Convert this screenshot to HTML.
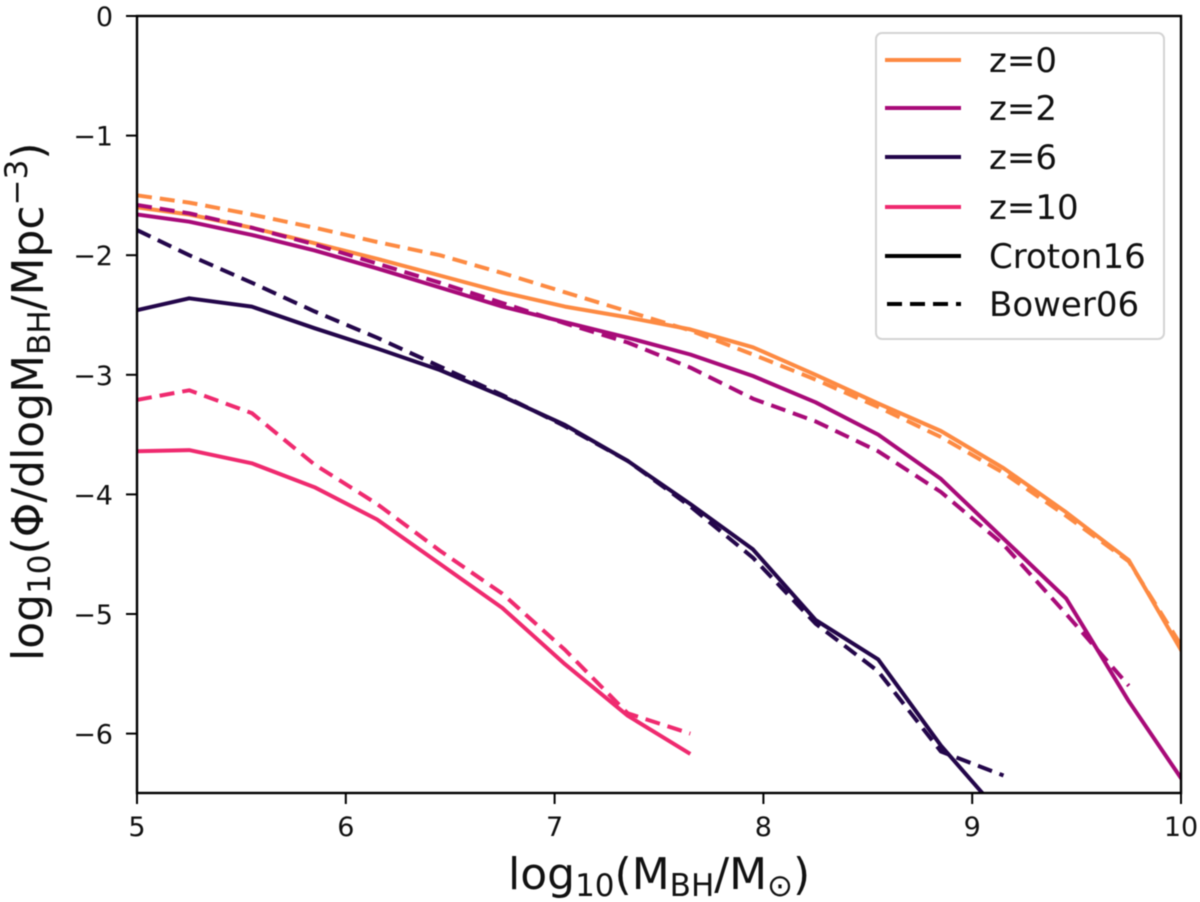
<!DOCTYPE html>
<html lang="en">
<head>
<meta charset="utf-8">
<title>Black hole mass function</title>
<style>
html,body{margin:0;padding:0;background:#fff;width:1200px;height:902px;overflow:hidden}
svg{display:block;filter:blur(0.5px)}
text{font-family:"DejaVu Sans","Liberation Sans",sans-serif;fill:#111}
</style>
</head>
<body>
<svg id="chart" width="1200" height="902" viewBox="0 0 1200 902" xmlns="http://www.w3.org/2000/svg">
  <defs><clipPath id="plot-clip"><rect x="137" y="16" width="1044" height="777"/></clipPath></defs>
  <g id="series" clip-path="url(#plot-clip)"></g>
  <rect x="137" y="16" width="1044" height="777" fill="none" stroke="#000" stroke-width="2.4"/>
  <g id="ticks"></g>
  <text x="508" y="889" font-size="44">log<tspan font-size="31" dy="7">10</tspan><tspan dy="-7">(M</tspan><tspan font-size="31" dy="7">BH</tspan><tspan dy="-7">/M</tspan><tspan font-size="31" dy="7">⊙</tspan><tspan dy="-7">)</tspan></text>
  <text transform="translate(43,661) rotate(-90)" font-size="44">log<tspan font-size="31" dy="7">10</tspan><tspan dy="-7">(Φ/dlogM</tspan><tspan font-size="31" dy="7">BH</tspan><tspan dy="-7">/Mpc</tspan><tspan font-size="31" dy="-16">−3</tspan><tspan dy="16">)</tspan></text>
  <g>
    <rect x="876" y="33" width="288" height="306" rx="6" fill="#fff" fill-opacity="0.85" stroke="#d4d4d4" stroke-width="2"/>
    <line x1="885" x2="961" y1="60" y2="60" stroke="#fd8a42" stroke-width="4"/>
    <text x="989" y="72" font-size="34">z=0</text>
    <line x1="885" x2="961" y1="108" y2="108" stroke="#a80a78" stroke-width="4"/>
    <text x="989" y="120" font-size="34">z=2</text>
    <line x1="885" x2="961" y1="157" y2="157" stroke="#23064a" stroke-width="4"/>
    <text x="989" y="169" font-size="34">z=6</text>
    <line x1="885" x2="961" y1="207" y2="207" stroke="#ef2a6f" stroke-width="4"/>
    <text x="989" y="219" font-size="34">z=10</text>
    <line x1="885" x2="961" y1="256" y2="256" stroke="#000" stroke-width="4"/>
    <text x="989" y="268" font-size="34">Croton16</text>
    <line x1="887" x2="961" y1="304" y2="304" stroke="#000" stroke-width="4" stroke-dasharray="15 8"/>
    <text x="989" y="316" font-size="34">Bower06</text>
  </g>
</svg>
<script>
const massGrid = [5.0,5.25,5.55,5.85,6.15,6.45,6.75,7.05,7.35,7.65,7.95,8.25,8.55,8.85,9.15,9.45,9.75,10.05];
const z0Croton = [-1.6,-1.66,-1.77,-1.9,-2.03,-2.17,-2.31,-2.43,-2.52,-2.62,-2.77,-3.0,-3.24,-3.47,-3.78,-4.15,-4.55,-5.45];
const z0Bower = [-1.5,-1.56,-1.66,-1.77,-1.89,-2.0,-2.15,-2.31,-2.47,-2.63,-2.83,-3.04,-3.27,-3.52,-3.82,-4.18,-4.56,-5.4];
const z2Croton = [-1.66,-1.72,-1.83,-1.96,-2.11,-2.27,-2.43,-2.56,-2.69,-2.83,-3.01,-3.23,-3.5,-3.87,-4.37,-4.87,-5.73,-6.5];
const z2Bower = [-1.58,-1.65,-1.77,-1.91,-2.07,-2.23,-2.4,-2.57,-2.73,-2.94,-3.2,-3.39,-3.64,-3.98,-4.42,-5.0,-5.6];
const z6Croton = [-2.46,-2.36,-2.43,-2.61,-2.78,-2.96,-3.18,-3.42,-3.72,-4.08,-4.46,-5.05,-5.38,-6.1,-6.7];
const z6Bower = [-1.79,-2.0,-2.23,-2.47,-2.69,-2.93,-3.17,-3.43,-3.72,-4.1,-4.53,-5.08,-5.48,-6.15,-6.35];
const z10Croton = [-3.64,-3.63,-3.74,-3.94,-4.21,-4.58,-4.95,-5.42,-5.85,-6.17];
const z10Bower = [-3.21,-3.13,-3.32,-3.75,-4.08,-4.47,-4.83,-5.3,-5.83,-6.0];
const xTickValues = [5,6,7,8,9,10];
const yTickValues = [0,-1,-2,-3,-4,-5,-6];

const NS = 'http://www.w3.org/2000/svg';
function xScale(v){ return 137 + (v - 5) * 208.8; }
function yScale(v){ return 16 + (0 - v) * 119.6; }

function drawSeries(name, values, color, dashed){
  const pts = values.map(function(v, i){ return xScale(massGrid[i]).toFixed(1) + ',' + yScale(v).toFixed(1); }).join(' ');
  const el = document.createElementNS(NS, 'polyline');
  
  
  el.setAttribute('points', pts);
  el.setAttribute('fill', 'none');
  el.setAttribute('stroke', color);
  el.setAttribute('stroke-width', '4');
  el.setAttribute('stroke-linejoin', 'round');
  if (dashed) el.setAttribute('stroke-dasharray', '15 8');
  document.getElementById('series').appendChild(el);
}
drawSeries('line-z0-croton16', z0Croton, '#fd8a42', false);
drawSeries('line-z0-bower06', z0Bower, '#fd8a42', true);
drawSeries('line-z2-croton16', z2Croton, '#a80a78', false);
drawSeries('line-z2-bower06', z2Bower, '#a80a78', true);
drawSeries('line-z6-croton16', z6Croton, '#23064a', false);
drawSeries('line-z6-bower06', z6Bower, '#23064a', true);
drawSeries('line-z10-croton16', z10Croton, '#ef2a6f', false);
drawSeries('line-z10-bower06', z10Bower, '#ef2a6f', true);

const tickGroup = document.getElementById('ticks');
xTickValues.forEach(function(v){
  const x = xScale(v);
  const t = document.createElementNS(NS, 'line');
  
  
  t.setAttribute('x1', x); t.setAttribute('x2', x);
  t.setAttribute('y1', 793); t.setAttribute('y2', 804);
  t.setAttribute('stroke', '#000'); t.setAttribute('stroke-width', '2');
  tickGroup.appendChild(t);
  const l = document.createElementNS(NS, 'text');
  
  
  l.setAttribute('x', x); l.setAttribute('y', 836);
  l.setAttribute('text-anchor', 'middle');
  l.setAttribute('font-size', '27');
  l.textContent = String(v);
  tickGroup.appendChild(l);
});
yTickValues.forEach(function(v){
  const y = yScale(v);
  const t = document.createElementNS(NS, 'line');
  
  
  t.setAttribute('x1', 126); t.setAttribute('x2', 137);
  t.setAttribute('y1', y); t.setAttribute('y2', y);
  t.setAttribute('stroke', '#000'); t.setAttribute('stroke-width', '2');
  tickGroup.appendChild(t);
  const l = document.createElementNS(NS, 'text');
  
  
  l.setAttribute('x', 113); l.setAttribute('y', y + 10);
  l.setAttribute('text-anchor', 'end');
  l.setAttribute('font-size', '27');
  l.textContent = v < 0 ? '\u2212' + Math.abs(v) : String(v);
  tickGroup.appendChild(l);
});
</script>
</body>
</html>
